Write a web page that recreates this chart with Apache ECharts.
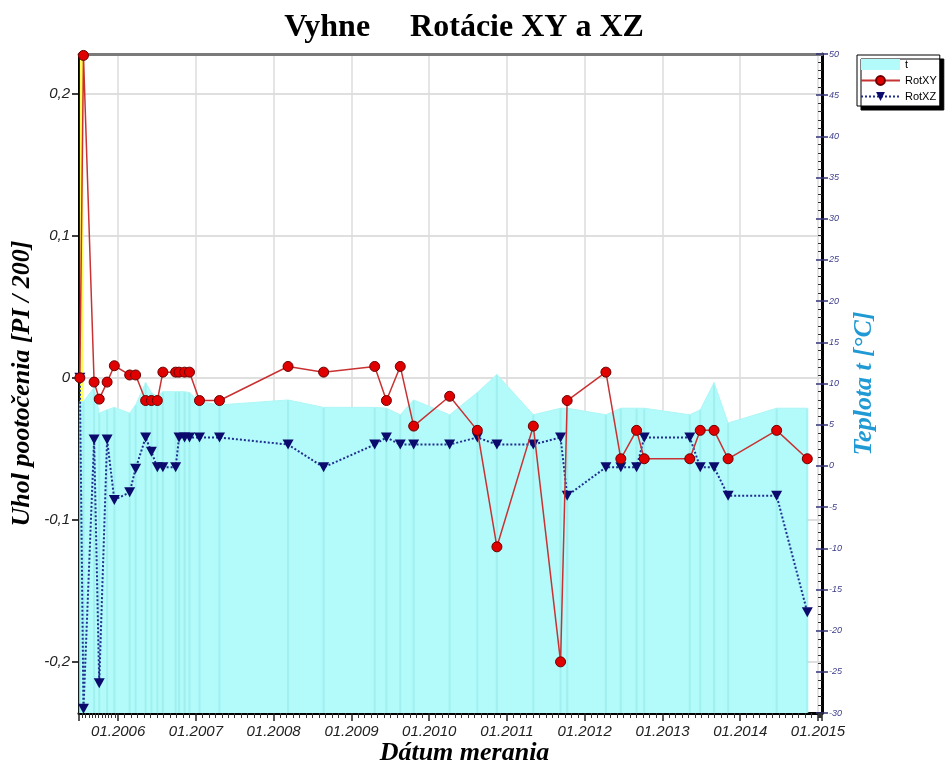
<!DOCTYPE html>
<html>
<head>
<meta charset="utf-8">
<title>Vyhne - Rotácie XY a XZ</title>
<script src="https://cdn.jsdelivr.net/npm/echarts@6/dist/echarts.min.js"></script>
<style>
  html, body { margin: 0; padding: 0; background: #fff; }
  #chart { width: 945px; height: 765px; }
</style>
</head>
<body>
<div id="chart"></div>
<script>
// dátumy meraní
const dates = [
  '2005-07-05', '2005-07-22', '2005-09-10', '2005-10-04', '2005-11-10', '2005-12-14',
  '2006-02-24', '2006-03-24', '2006-05-10', '2006-06-06', '2006-07-04', '2006-07-30',
  '2006-09-28', '2006-10-14', '2006-11-09', '2006-12-02', '2007-01-18', '2007-04-22',
  '2008-03-09', '2008-08-23', '2009-04-20', '2009-06-14', '2009-08-18', '2009-10-20',
  '2010-04-07', '2010-08-15', '2010-11-15', '2011-05-05', '2011-09-10', '2011-10-11',
  '2012-04-10', '2012-06-19', '2012-09-01', '2012-10-07', '2013-05-09', '2013-06-27',
  '2013-08-31', '2013-11-05', '2014-06-21', '2014-11-12'
];

// RotXY [PI / 200]
const rotXY = [
  0, 0.227, -0.003, -0.015, -0.003, 0.0085,
  0.002, 0.002, -0.016, -0.016, -0.016, 0.004,
  0.004, 0.004, 0.004, 0.004, -0.016, -0.016,
  0.008, 0.004, 0.008, -0.016, 0.008, -0.034,
  -0.013, -0.037, -0.119, -0.034, -0.2, -0.016,
  0.004, -0.057, -0.037, -0.057, -0.057, -0.037,
  -0.037, -0.057, -0.037, -0.057
];

// RotXZ [PI / 200]
const rotXZ = [
  0, -0.233, -0.0435, -0.215, -0.0435, -0.086,
  -0.0806, -0.064, -0.042, -0.052, -0.063, -0.063,
  -0.063, -0.042, -0.042, -0.042, -0.042, -0.042,
  -0.047, -0.063, -0.047, -0.042, -0.047, -0.047,
  -0.047, -0.042, -0.047, -0.047, -0.042, -0.083,
  -0.063, -0.063, -0.063, -0.042, -0.042, -0.063,
  -0.063, -0.083, -0.083, -0.165
];

// teplota t [°C]
const temp = [
  7.8, 7.8, 9.5, 6.4, 6.8, 7.1,
  6.4, 7.4, 10.1, 8.9, 8.4, 9.0,
  9.0, 9.0, 9.0, 8.9, 7.8, 7.4,
  8.0, 7.1, 7.1, 7.0, 6.2, 8.0,
  6.2, 8.9, 11.1, 6.2, 7.0, 7.0,
  6.2, 7.0, 7.0, 7.0, 6.2, 6.8,
  10.1, 5.2, 7.0, 7.0
];

const rotTicks = [-0.2, -0.1, 0, 0.1, 0.2];
const tempMin = -30;
const tempMax = 50;
const dateMin = '2005-07-01';
const dateMax = '2015-01-20';

const chart = echarts.init(document.getElementById('chart'));

const pairs = (vals) => dates.map((d, i) => [d, vals[i]]);

const option = {
  animation: false,
  title: {
    text: 'Vyhne     Rotácie XY a XZ',
    left: 459,
    top: 7,
    textAlign: 'center',
    textStyle: {
      fontFamily: 'Liberation Serif',
      fontWeight: 'bold',
      fontSize: 32,
      color: '#000'
    }
  },
  legend: {
    orient: 'vertical',
    left: 857,
    top: 55,
    padding: [4, 3, 4, 3],
    itemGap: 5,
    itemWidth: 39,
    itemHeight: 11,
    backgroundColor: '#fff',
    borderColor: '#000',
    borderWidth: 1,
    shadowColor: '#000',
    shadowBlur: 0,
    shadowOffsetX: 4,
    shadowOffsetY: 4,
    textStyle: { fontFamily: 'Liberation Sans', fontSize: 11, color: '#000' },
    data: [
      { name: 't', icon: 'rect', itemStyle: { color: '#b3fafa' } },
      'RotXY',
      'RotXZ'
    ]
  },
  grid: {
    left: 79,
    right: 123,
    top: 54,
    bottom: 52,
    containLabel: false,
    outerBoundsMode: 'none'
  },
  xAxis: [
    {
      type: 'time',
      min: dateMin,
      max: dateMax,
      splitNumber: 10,
      maxInterval: 366 * 24 * 3600 * 1000,
      name: 'Dátum merania',
      nameLocation: 'middle',
      nameGap: 27,
      nameMoveOverlap: false,
      nameTextStyle: {
        fontFamily: 'Liberation Serif',
        fontStyle: 'italic',
        fontWeight: 'bold',
        fontSize: 26,
        color: '#000',
        padding: [0, 0, 0, 28]
      },
      axisLine: { onZero: false, lineStyle: { color: '#000', width: 3 } },
      axisTick: { length: 8, lineStyle: { color: '#222', width: 1.5 } },
      minorTick: { show: true, splitNumber: 12, length: 5, lineStyle: { color: '#333', width: 1 } },
      axisLabel: {
        margin: 11,
        fontFamily: 'Liberation Sans',
        fontStyle: 'italic',
        fontSize: 15,
        color: '#222',
        formatter: (v) => {
          const d = new Date(v);
          return String(d.getMonth() + 1).padStart(2, '0') + '.' + d.getFullYear();
        }
      },
      splitLine: { show: true, lineStyle: { color: '#dcdcdc', width: 1.5 } }
    },
    {
      type: 'time',
      position: 'top',
      min: dateMin,
      max: dateMax,
      axisLine: { onZero: false, lineStyle: { color: '#7a7a7a', width: 3 } },
      axisTick: { show: false },
      axisLabel: { show: false },
      splitLine: { show: false }
    }
  ],
  yAxis: [
    {
      type: 'value',
      min: -0.236,
      max: 0.228,
      name: 'Uhol pootočenia [PI / 200]',
      nameLocation: 'middle',
      nameGap: 44,
      nameMoveOverlap: false,
      nameTextStyle: {
        fontFamily: 'Liberation Serif',
        fontStyle: 'italic',
        fontWeight: 'bold',
        fontSize: 26,
        color: '#000'
      },
      axisLine: { show: true, onZero: false, lineStyle: { color: '#000', width: 3 } },
      axisTick: { show: true, length: 7, customValues: rotTicks, lineStyle: { color: '#000', width: 1.5 } },
      axisLabel: {
        customValues: rotTicks,
        margin: 9,
        fontFamily: 'Liberation Sans',
        fontStyle: 'italic',
        fontSize: 15,
        color: '#222',
        formatter: (v) => String(Math.round(v * 10) / 10).replace('.', ',')
      },
      splitLine: { show: true, lineStyle: { color: '#d4d4d4', width: 1.5 } }
    },
    {
      type: 'value',
      position: 'right',
      min: tempMin,
      max: tempMax,
      interval: 5,
      name: 'Teplota t [°C]',
      nameLocation: 'middle',
      nameGap: 29,
      nameRotate: 90,
      nameMoveOverlap: false,
      nameTextStyle: {
        fontFamily: 'Liberation Serif',
        fontStyle: 'italic',
        fontWeight: 'bold',
        fontSize: 26,
        color: '#1f9ad4'
      },
      axisLine: { show: true, onZero: false, lineStyle: { color: '#000', width: 3 } },
      axisTick: { show: true, length: 6, lineStyle: { color: '#33337a', width: 1.5 } },
      axisLabel: {
        margin: 7,
        fontFamily: 'Liberation Sans',
        fontStyle: 'italic',
        fontSize: 9,
        color: '#3c3c8c'
      },
      splitLine: { show: false }
    },
    {
      // vnútorné značky pravej osi
      type: 'value',
      position: 'right',
      min: tempMin,
      max: tempMax,
      interval: 5,
      axisLine: { show: false },
      axisTick: { show: true, inside: true, length: 6, lineStyle: { color: '#33337a', width: 1.5 } },
      minorTick: { show: true, splitNumber: 5, length: 4, lineStyle: { color: '#333', width: 1 } },
      axisLabel: { show: false },
      splitLine: { show: false }
    }
  ],
  series: [
    {
      name: 't',
      type: 'line',
      yAxisIndex: 1,
      data: pairs(temp),
      symbol: 'none',
      lineStyle: { color: '#aef6f6', width: 1 },
      itemStyle: { color: '#b3fafa' },
      areaStyle: { color: '#b3fafa', opacity: 1, origin: 'start' },
      z: 2,
      markArea: {
        silent: true,
        itemStyle: { color: '#ffff5a' },
        data: [[{ xAxis: dates[0] }, { xAxis: dates[1] }]]
      }
    },
    {
      // zvislé čiary pod každým meraním
      name: 't-lines',
      type: 'custom',
      yAxisIndex: 1,
      data: pairs(temp),
      silent: true,
      z: 2,
      renderItem: (params, api) => {
        const top = api.coord([api.value(0), api.value(1)]);
        const bottom = api.coord([api.value(0), tempMin]);
        return {
          type: 'line',
          shape: { x1: top[0], y1: top[1], x2: bottom[0], y2: bottom[1] },
          style: { stroke: '#9beded', lineWidth: 2, opacity: 0.8 }
        };
      }
    },
    {
      name: 'RotXY',
      type: 'line',
      data: pairs(rotXY),
      symbol: 'circle',
      symbolSize: 10,
      lineStyle: { color: '#c83232', width: 1.5 },
      itemStyle: { color: '#e00000', borderColor: '#6a0000', borderWidth: 1 },
      z: 4
    },
    {
      name: 'RotXZ',
      type: 'line',
      data: pairs(rotXZ),
      symbol: 'triangle',
      symbolRotate: 180,
      symbolSize: [11, 10],
      lineStyle: { color: '#1f2f8f', width: 2, type: 'dotted' },
      itemStyle: { color: '#0b0b6e' },
      z: 3
    }
  ]
};

chart.setOption(option);
</script>
</body>
</html>
